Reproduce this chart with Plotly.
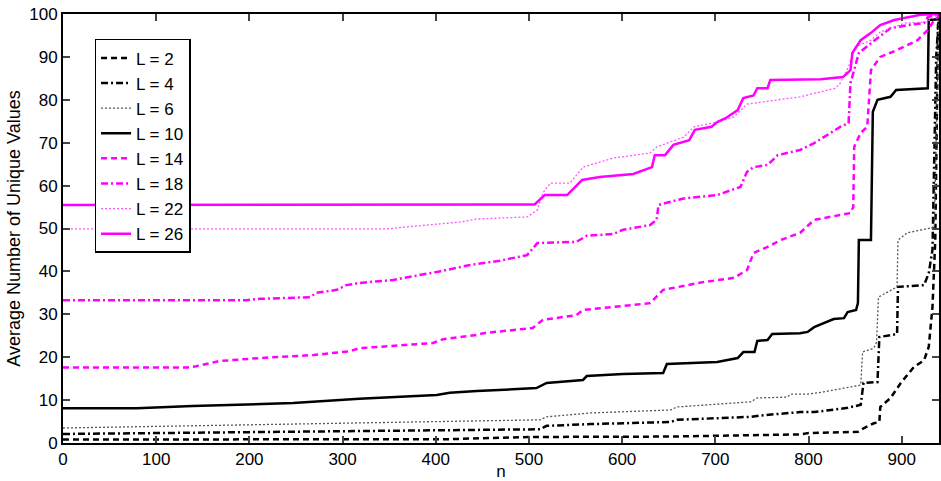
import plotly.graph_objects as go

# ---- data ----
x_L2 = [0, 415, 501, 650, 791, 799, 853, 859, 870, 876, 877, 888, 899, 913, 924, 929, 933, 936, 939, 940]
y_L2 = [0.8, 0.9, 1.4, 1.5, 2.0, 2.3, 2.6, 3.4, 4.6, 4.9, 8.4, 10.5, 14.0, 17.7, 19.3, 22.4, 31.7, 47.3, 98.6, 100]

x_L4 = [0, 415, 512, 519, 566, 652, 659, 738, 752, 791, 806, 842, 856, 859, 874, 876, 888, 895, 896, 924, 929, 933, 937, 940]
y_L4 = [2.1, 3.0, 3.2, 4.0, 4.4, 4.9, 5.4, 6.1, 6.5, 7.2, 7.2, 8.2, 8.9, 14.0, 14.2, 24.7, 25.2, 25.4, 36.4, 36.8, 39.6, 45.0, 90.0, 100]

x_L6 = [0, 415, 512, 519, 566, 652, 659, 738, 745, 777, 781, 799, 816, 856, 858, 870, 873, 875, 895, 896, 906, 935, 940]
y_L6 = [3.5, 4.9, 5.4, 6.1, 7.0, 7.7, 8.4, 9.6, 10.5, 10.7, 11.4, 11.4, 11.9, 13.5, 21.2, 22.1, 23.5, 34.0, 36.4, 47.3, 49.0, 50.3, 100]

x_L10 = [0, 79, 139, 247, 318, 401, 415, 444, 508, 519, 558, 562, 601, 644, 648, 702, 724, 730, 742, 745, 756, 761, 791, 799, 806, 827, 838, 842, 851, 853, 854, 867, 869, 874, 888, 894, 928, 929, 940]
y_L10 = [8.1, 8.1, 8.6, 9.3, 10.3, 11.2, 11.7, 12.1, 12.8, 14.0, 14.7, 15.6, 16.1, 16.3, 18.4, 18.9, 19.8, 21.2, 21.2, 23.8, 24.0, 25.4, 25.6, 25.9, 27.0, 28.9, 29.1, 30.5, 31.0, 32.6, 47.3, 47.3, 77.2, 80.0, 80.7, 82.3, 82.7, 98.6, 98.8]

x_L14 = [0, 133, 143, 168, 211, 269, 308, 318, 397, 408, 444, 451, 504, 515, 551, 558, 630, 644, 687, 720, 734, 741, 756, 770, 791, 806, 845, 848, 849, 856, 863, 867, 877, 895, 917, 928, 935, 940]
y_L14 = [17.6, 17.6, 17.9, 19.1, 19.8, 20.5, 21.4, 22.1, 23.3, 24.2, 25.2, 25.6, 26.8, 28.7, 29.8, 31.0, 32.6, 35.7, 37.5, 38.5, 40.3, 44.3, 45.7, 47.3, 49.0, 52.0, 53.6, 55.0, 69.0, 72.3, 73.7, 86.9, 90.0, 91.6, 93.9, 96.3, 98.6, 99.5]

x_L18 = [0, 197, 211, 265, 272, 294, 304, 318, 354, 404, 437, 469, 498, 509, 551, 562, 590, 601, 630, 637, 639, 666, 702, 727, 734, 741, 756, 767, 791, 806, 834, 843, 845, 854, 867, 888, 906, 924, 928, 940]
y_L18 = [33.3, 33.3, 33.6, 34.0, 35.0, 35.7, 36.8, 37.3, 38.0, 40.0, 41.5, 42.5, 43.8, 46.6, 46.9, 48.3, 48.7, 49.7, 50.8, 52.0, 55.5, 57.0, 57.8, 59.7, 63.2, 64.3, 64.8, 67.1, 68.3, 69.9, 73.7, 74.6, 83.9, 90.9, 93.2, 96.7, 97.4, 97.9, 99.3, 100]

x_L22 = [0, 348, 370, 400, 426, 444, 498, 509, 515, 523, 544, 558, 590, 630, 637, 666, 677, 702, 720, 734, 770, 791, 829, 834, 843, 850, 867, 877, 904, 926, 940]
y_L22 = [49.9, 49.9, 50.4, 51.0, 51.5, 52.2, 52.7, 54.3, 58.3, 60.6, 60.6, 64.3, 66.4, 67.6, 69.0, 71.3, 73.7, 74.8, 76.0, 79.0, 80.0, 80.7, 82.7, 83.9, 87.7, 92.3, 93.9, 95.8, 97.9, 98.1, 100]

x_L26 = [0, 440, 506, 517, 541, 557, 576, 612, 632, 635, 646, 655, 672, 678, 696, 702, 711, 724, 730, 741, 745, 756, 759, 813, 837, 845, 847, 856, 867, 877, 892, 920, 940]
y_L26 = [55.5, 55.6, 55.6, 57.8, 57.8, 61.3, 62.0, 62.7, 64.3, 67.1, 67.1, 69.5, 70.6, 73.0, 73.7, 74.8, 75.7, 77.6, 80.4, 81.0, 82.7, 82.7, 84.6, 84.8, 85.3, 86.9, 90.9, 93.9, 95.6, 97.4, 98.6, 99.8, 100]

names = ["L = 2", "L = 4", "L = 6", "L = 10", "L = 14", "L = 18", "L = 22", "L = 26"]
xs = [x_L2, x_L4, x_L6, x_L10, x_L14, x_L18, x_L22, x_L26]
ys = [y_L2, y_L4, y_L6, y_L10, y_L14, y_L18, y_L22, y_L26]

x_ticks = [0, 100, 200, 300, 400, 500, 600, 700, 800, 900]
y_ticks = [0, 10, 20, 30, 40, 50, 60, 70, 80, 90, 100]

# ---- styles ----
BLACK = "#000000"
MAG = "#ff00ff"
styles = [
    dict(color=BLACK, dash="6px,4px", width=2.5),
    dict(color=BLACK, dash="7px,3px,2px,3px", width=2.5),
    dict(color="#555555", dash="2px,2px", width=1.3),
    dict(color=BLACK, dash="solid", width=2.5),
    dict(color=MAG, dash="6px,4px", width=2.5),
    dict(color=MAG, dash="7px,3px,2px,3px", width=2.5),
    dict(color="#ff55ff", dash="2px,2px", width=1.3),
    dict(color=MAG, dash="solid", width=2.5),
]

fig = go.Figure()
for n, x, y, s in zip(names, xs, ys, styles):
    fig.add_trace(go.Scatter(x=x, y=y, mode="lines", name=n, line=s))

FONT = "Liberation Sans, Arial, sans-serif"
fig.update_layout(
    width=941, height=481,
    margin=dict(l=63, r=2, t=14, b=38),
    paper_bgcolor="white", plot_bgcolor="white",
    font=dict(family=FONT, size=17, color="black"),
    showlegend=True,
    legend=dict(
        x=0.036, y=0.942, xanchor="left", yanchor="top",
        bgcolor="white", bordercolor="black", borderwidth=1.5,
        font=dict(family=FONT, size=17), tracegroupgap=0,
        itemwidth=30,
    ),
)
fig.update_xaxes(
    range=[0, 940], tickvals=x_ticks, ticks="inside", ticklen=7, tickwidth=1.5,
    showline=True, linecolor="black", linewidth=2, mirror="ticks",
    showgrid=False, zeroline=False, automargin=False,
    title=dict(text="n", standoff=0, font=dict(size=17)),
    tickfont=dict(size=17),
)
fig.update_yaxes(
    range=[0, 100], tickvals=y_ticks, ticks="inside", ticklen=7, tickwidth=1.5,
    showline=True, linecolor="black", linewidth=2, mirror="ticks",
    showgrid=False, zeroline=False, automargin=False,
    title=dict(text="Average Number of Unique Values", standoff=4, font=dict(size=18)),
    tickfont=dict(size=17),
)

fig.write_html(
    "out.html",
    config={"displayModeBar": False},
    post_script="document.body.style.margin='0';document.body.style.overflow='hidden';",
)
